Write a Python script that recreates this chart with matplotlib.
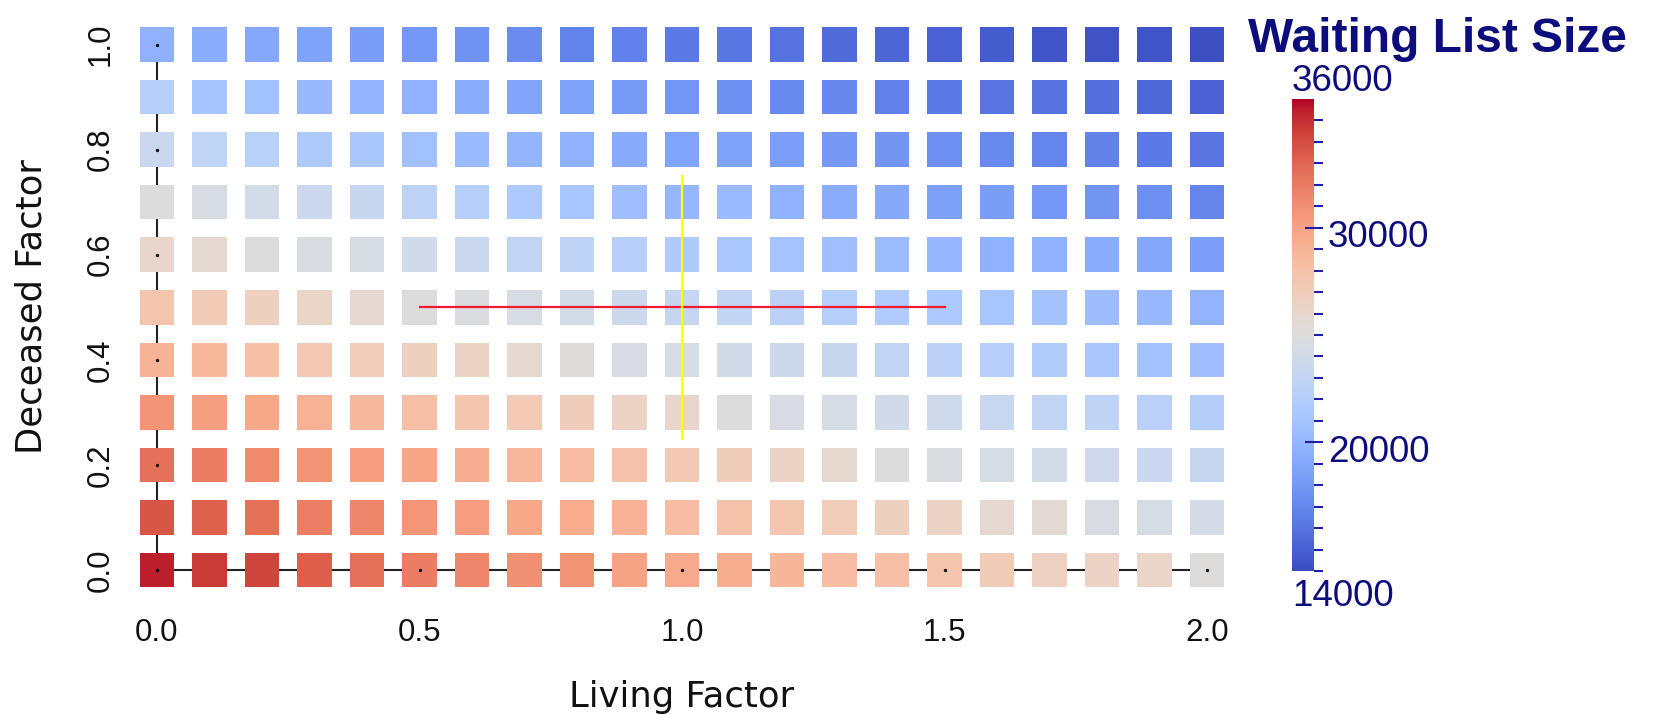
import numpy as np
import matplotlib
matplotlib.use("Agg")
import matplotlib.pyplot as plt
from matplotlib.ticker import FixedLocator
from matplotlib.transforms import ScaledTranslation

# Parameter grid
living_factor = [0.0, 0.1, 0.2, 0.3, 0.4, 0.5, 0.6, 0.7, 0.8, 0.9, 1.0,
                 1.1, 1.2, 1.3, 1.4, 1.5, 1.6, 1.7, 1.8, 1.9, 2.0]
deceased_factor = [0.0, 0.1, 0.2, 0.3, 0.4, 0.5, 0.6, 0.7, 0.8, 0.9, 1.0]

# Waiting list size, one list per deceased factor (across living factor)
wl_d00 = [35400, 34700, 34300, 33300, 32500, 31900, 31500, 31100, 30800, 29900, 29600,
          29300, 28800, 28400, 28100, 27800, 27100, 26600, 26400, 26200, 25100]
wl_d01 = [33600, 33200, 32500, 31800, 31500, 30700, 30300, 29700, 29400, 29100, 28300,
          28000, 27600, 27000, 26700, 26300, 25700, 25600, 24500, 24400, 24200]
wl_d02 = [32500, 31900, 31300, 30800, 30300, 29800, 29300, 28700, 28300, 28000, 27400,
          26900, 26400, 25800, 25000, 24700, 24400, 24100, 23800, 23400, 23200]
wl_d03 = [30800, 30200, 29700, 29100, 28600, 28200, 27700, 27300, 26900, 26400, 26100,
          25000, 24600, 24400, 24000, 23800, 23400, 22900, 22700, 22400, 22000]
wl_d04 = [29000, 28700, 28100, 27500, 27000, 26700, 26300, 25700, 25100, 24600, 24400,
          24000, 23700, 23300, 22900, 22500, 22200, 21800, 21300, 20900, 20600]
wl_d05 = [27800, 27200, 26700, 26200, 25700, 25000, 24800, 24500, 24100, 23700, 23200,
          23000, 22500, 22100, 21800, 21500, 21200, 20900, 20500, 20200, 19800]
wl_d06 = [26000, 25700, 25000, 24700, 24400, 23900, 23500, 22900, 22700, 22200, 21700,
          21400, 21000, 20700, 20400, 20100, 19700, 19600, 19300, 18900, 18400]
wl_d07 = [25000, 24500, 24100, 23600, 23300, 22600, 22100, 21500, 21200, 20600, 20100,
          20300, 19700, 19300, 19100, 18500, 18300, 18000, 17800, 17500, 17000]
wl_d08 = [23500, 22800, 22300, 21600, 21300, 20800, 20300, 19900, 19600, 19200, 18800,
          18700, 18400, 18100, 17800, 17500, 17200, 17000, 16800, 16400, 16100]
wl_d09 = [22100, 21100, 20800, 20200, 19800, 19700, 19300, 18800, 18600, 18200, 17900,
          17600, 17200, 17100, 16700, 16400, 16100, 15900, 15800, 15400, 15100]
wl_d10 = [19700, 19400, 19000, 18700, 18300, 18000, 17700, 17300, 16900, 16700, 16400,
          16200, 15900, 15600, 15300, 15100, 14800, 14500, 14400, 14500, 14200]

x_ticks = [0.0, 0.5, 1.0, 1.5, 2.0]
x_tick_labels = ["0.0", "0.5", "1.0", "1.5", "2.0"]
y_ticks = [0.0, 0.2, 0.4, 0.6, 0.8, 1.0]
y_tick_labels = ["0.0", "0.2", "0.4", "0.6", "0.8", "1.0"]

color_min, color_max = 14000, 36000
cbar_major = [20000, 30000]
cbar_major_labels = ["20000", "30000"]
cbar_minor = [v for v in range(14000, 36000, 1000) if v not in cbar_major]

# Probe lines
probe_h_x = [0.5, 1.5]
probe_h_y = [0.5, 0.5]
probe_v_x = [1.0, 1.0]
probe_v_y = [0.25, 0.75]

W, H = 1662, 714
NAVY = "#0c0c7c"
TICK_BLUE = "#1e1eaa"

fig = plt.figure(figsize=(W / 100, H / 100), dpi=100)
ax = fig.add_axes([130.75 / W, (H - 596.25) / H, 1102.5 / W, 578 / H])
ax.set_xlim(-0.05, 2.05)
ax.set_ylim(-0.05, 1.05)
for sp in ax.spines.values():
    sp.set_visible(False)

values = np.array([wl_d00, wl_d01, wl_d02, wl_d03, wl_d04, wl_d05,
                   wl_d06, wl_d07, wl_d08, wl_d09, wl_d10])
XX, YY = np.meshgrid(living_factor, deceased_factor)

# Axis lines behind the glyphs
ax.plot([living_factor[0], living_factor[-1]], [0, 0], color="#222222", lw=1.5,
        zorder=1, solid_capstyle="butt")
ax.plot([0, 0], [deceased_factor[0], deceased_factor[-1]], color="#222222", lw=1.5,
        zorder=1, solid_capstyle="butt")

side_pt = 34.5 * 72 / 100
sc = ax.scatter(XX.ravel(), YY.ravel(), c=values.ravel(), cmap="coolwarm",
                vmin=color_min, vmax=color_max, marker="s", s=side_pt ** 2,
                linewidths=0, zorder=2)

# Tick dots on the axes
ax.plot(x_ticks, [0] * len(x_ticks), ls="none", marker="o", ms=1.4,
        color="#111111", zorder=3)
ax.plot([0] * len(y_ticks), y_ticks, ls="none", marker="o", ms=1.4,
        color="#111111", zorder=3)

ax.plot(probe_h_x, probe_h_y, color="#ee1c2e", lw=1.6, zorder=4)
ax.plot(probe_v_x, probe_v_y, color="#ffff00", lw=1.6, zorder=5)

tick_font = dict(family="Liberation Sans", size=22.5)
ax.set_xticks(x_ticks)
ax.set_xticklabels(x_tick_labels, fontdict=tick_font)
ax.set_yticks(y_ticks)
ax.set_yticklabels(y_tick_labels, fontdict=tick_font, rotation=90, va="center")
ax.tick_params(axis="x", length=0, pad=15.5, colors="#111111")
ax.tick_params(axis="y", length=0, pad=11, colors="#111111")

label_font = dict(family="DejaVu Sans", size=25.5, color="#111111")
fig.text(682 / W, (H - 707) / H, "Living Factor", ha="center", va="baseline",
         **label_font)
fig.text(42 / W, (H - 307) / H, "Deceased Factor", rotation=90,
         rotation_mode="anchor", ha="center", va="baseline", **label_font)

# Color bar
cax = fig.add_axes([1292 / W, (H - 571) / H, 22 / W, 472 / H])
cb = fig.colorbar(sc, cax=cax)
cb.outline.set_visible(False)
cb.set_ticks(cbar_major)
cb.set_ticklabels(cbar_major_labels)
cax.yaxis.set_minor_locator(FixedLocator(cbar_minor))
cax.tick_params(which="major", direction="inout", length=13, width=1.5,
                color=TICK_BLUE, pad=3.6, labelsize=26.5, labelcolor=NAVY)
cax.tick_params(which="minor", direction="out", length=6.5, width=1.5,
                color=TICK_BLUE)
shift = ScaledTranslation(0, -6 / 100, fig.dpi_scale_trans)
for lbl in cax.get_yticklabels():
    lbl.set_family("Liberation Sans")
    lbl.set_transform(lbl.get_transform() + shift)

cbar_font = dict(family="Liberation Sans", size=26.5, color=NAVY)
cax.text(0, 1, str(color_max), transform=cax.transAxes, ha="left", va="bottom",
         **cbar_font)
cax.text(0, 0, str(color_min), transform=cax.transAxes + ScaledTranslation(
    0, -8 / 100, fig.dpi_scale_trans), ha="left", va="top", **cbar_font)

fig.text(1248 / W, (H - 52) / H, "Waiting List Size", ha="left", va="baseline",
         family="Liberation Sans", weight="bold", size=34.5, color=NAVY)

fig.savefig("out.png", dpi=100)
